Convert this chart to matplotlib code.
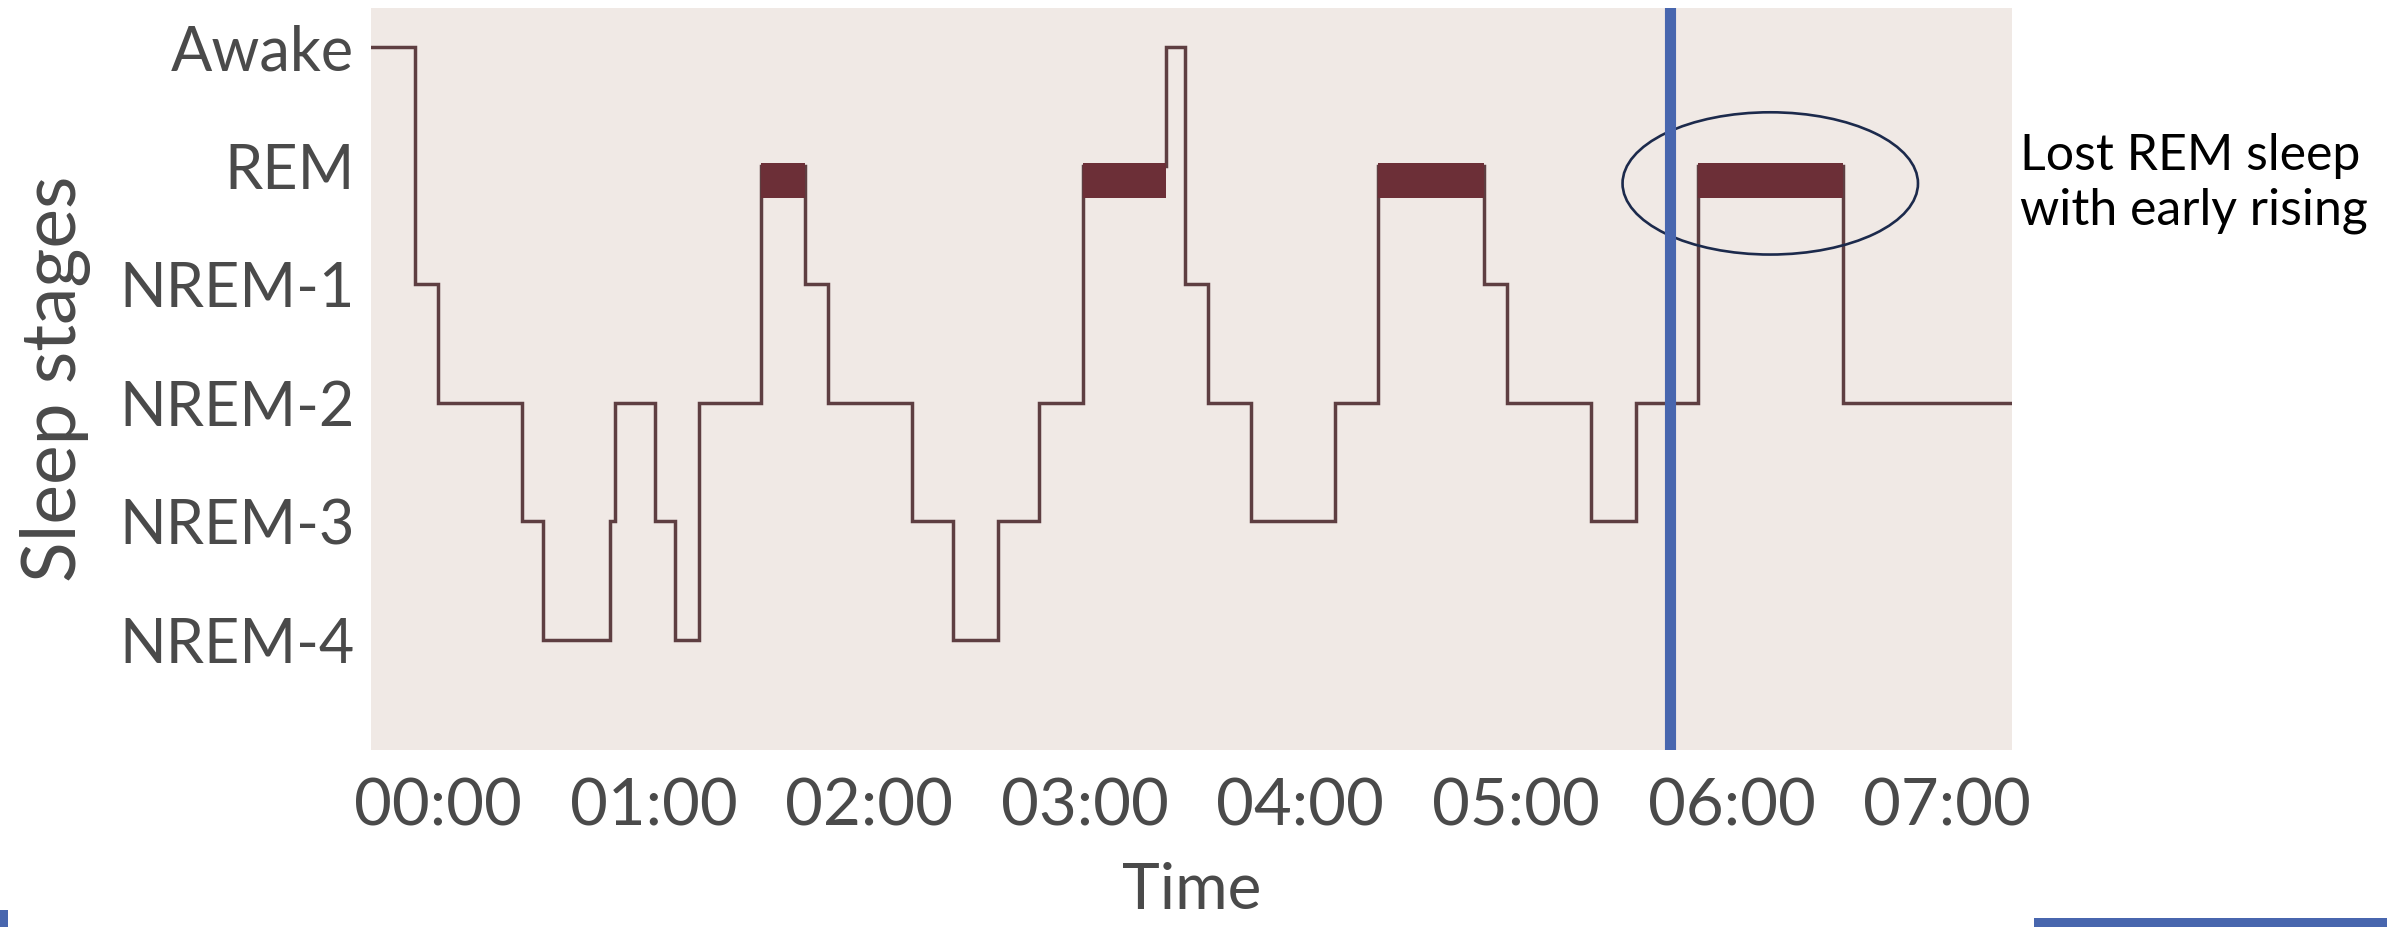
import matplotlib
matplotlib.use("Agg")
import matplotlib.pyplot as plt
from matplotlib.patches import Ellipse, Rectangle

# sleep stages, bottom to top of the chart
stage_labels = ["NREM-4", "NREM-3", "NREM-2", "NREM-1", "REM", "Awake"]
stage_levels = [1, 2, 3, 4, 5, 6]

# hypnogram: time (hours after 00:00) at which each stage starts
change_times = [-0.31, -0.104, 0.0, 0.389, 0.49, 0.80, 0.823, 1.009, 1.102, 1.211,
                1.501, 1.702, 1.811, 2.198, 2.389, 2.597, 2.788, 2.994, 3.377, 3.465,
                3.571, 3.769, 4.16, 4.361, 4.85, 4.958, 5.346, 5.555, 5.842, 6.516]
stages = ["Awake", "NREM-1", "NREM-2", "NREM-3", "NREM-4", "NREM-3", "NREM-2", "NREM-3", "NREM-4", "NREM-2",
          "REM", "NREM-1", "NREM-2", "NREM-3", "NREM-4", "NREM-3", "NREM-2", "REM", "Awake", "NREM-1",
          "NREM-2", "NREM-3", "NREM-2", "REM", "NREM-1", "NREM-2", "NREM-3", "NREM-2", "REM", "NREM-2"]
end_time = 7.30

hour_ticks = [0, 1, 2, 3, 4, 5, 6, 7]
hour_labels = ["00:00", "01:00", "02:00", "03:00", "04:00", "05:00", "06:00", "07:00"]

# early rising marker and the note next to the chart
wake_time = 5.716
note_text = "Lost REM sleep\nwith early rising"

BG = "#f0e9e5"
LINE = "#5e3e41"
REM_BAND = "#6c2f37"
BLUE = "#4866ae"
TEXT = "#4a4a4a"

plt.rcParams["font.family"] = ["Lato", "DejaVu Sans"]

fig = plt.figure(figsize=(23.87, 9.27), dpi=100)
ax = fig.add_axes([0.1554, 0.1909, 0.6875, 0.8005])
ax.set_facecolor(BG)

level_of = dict(zip(stage_labels, stage_levels))
y = [level_of[s] for s in stages]

# step line
xs = change_times + [end_time]
ys = y + [y[-1]]
ax.step(xs, ys, where="post", color=LINE, lw=2.5, solid_joinstyle="miter", zorder=2)

# thick bars on the REM episodes
for i, s in enumerate(stages):
    if s == "REM":
        t0 = change_times[i]
        t1 = change_times[i + 1] if i + 1 < len(change_times) else end_time
        ax.fill_between([t0, t1], level_of[s] - 0.27, level_of[s] + 0.02,
                        color=REM_BAND, lw=0, zorder=3)

# last REM episode circled, lost with early rising
last_rem = max(i for i, s in enumerate(stages) if s == "REM")
cx = (change_times[last_rem] + change_times[last_rem + 1]) / 2
ax.add_patch(Ellipse((cx, level_of["REM"] - 0.15), 1.37, 1.2, fill=False,
                     edgecolor="#1c2a4c", lw=1.9, zorder=4))

ax.axvline(wake_time, color=BLUE, lw=8, zorder=5)

ax.set_xlim(-0.31, 7.30)
ax.set_ylim(0.07, 6.33)

ax.set_yticks(stage_levels)
ax.set_yticklabels(stage_labels)
ax.set_xticks(hour_ticks)
ax.set_xticklabels(hour_labels)
ax.tick_params(axis="both", length=0, labelcolor=TEXT)
ax.tick_params(axis="y", pad=12, labelsize=44)
ax.tick_params(axis="x", pad=20, labelsize=47)
for sp in ax.spines.values():
    sp.set_visible(False)

ax.set_xlabel("Time", fontsize=46, color=TEXT, labelpad=18)
ax.set_ylabel("Sleep stages", fontsize=54, color=TEXT, labelpad=20)

fig.text(0.8463, 0.857, note_text, fontsize=36, color="black",
         va="top", ha="left", linespacing=1.25)

# slide decorations at the bottom edge
fig.add_artist(Rectangle((0.852, 0.0), 0.148, 0.0097, transform=fig.transFigure,
                         color=BLUE, lw=0))
fig.add_artist(Rectangle((0.0, 0.0), 0.0034, 0.0183, transform=fig.transFigure,
                         color=BLUE, lw=0))

fig.savefig("out.png", dpi=100)
